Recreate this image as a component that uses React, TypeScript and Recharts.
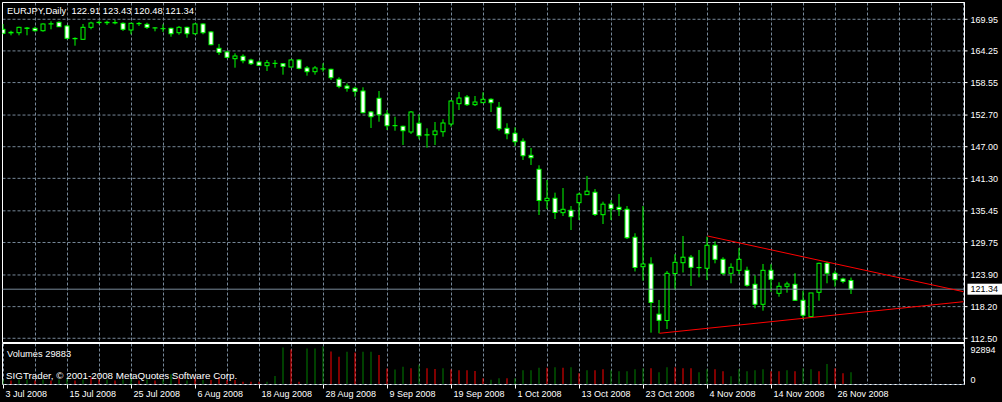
import React from 'react';
import {
  ComposedChart,
  Bar,
  Line,
  XAxis,
  YAxis,
  CartesianGrid,
  ReferenceLine,
  ReferenceArea,
  Cell,
} from 'recharts';

// ---------- data ----------
const symbolName = 'EURJPY,Daily';
const copyrightText = 'SIGTrader, \u00a9 2001-2008 MetaQuotes Software Corp.';

const opens = [
  168.14, 167.5, 167.53, 168.3, 168.32, 167.89, 169.1, 169.4, 168.74, 166.5,
  166.34, 168.5, 169.35, 169.4, 169.3, 169.22, 168.02, 169.2, 169.04, 168.4,
  168.25, 168.32, 167.53, 168.5, 167.35, 169.1, 167.66, 164.72, 164.06, 162.85,
  163.28, 162.62, 162.25, 161.59, 162.0, 161.95, 161.35, 162.62, 161.18, 160.51,
  161.0, 160.94, 159.14, 157.93, 157.52, 157.03, 153.25, 155.72, 152.89, 150.8,
  150.68, 149.65, 151.22, 149.1, 149.16, 149.7, 151.09, 154.75, 155.95, 154.57,
  154.93, 155.54, 154.1, 150.31, 149.42, 147.98, 145.45, 142.93, 137.28, 137.71,
  135.12, 135.55, 136.92, 138.36, 138.79, 134.76, 136.65, 136.09, 135.73, 130.69,
  125.39, 125.88, 116.84, 115.7, 124.17, 126.11, 127.1, 125.25, 125.11, 129.25,
  126.72, 124.2, 124.74, 124.74, 122.22, 118.62, 124.74, 120.6, 121.86, 122.22,
  119.34, 116.39, 120.78, 126.0, 124.2, 123.18, 122.91,
];
const highs = [
  169.1, 167.89, 168.61, 168.56, 168.61, 169.22, 169.58, 169.58, 168.92, 166.7,
  169.1, 169.51, 169.69, 169.69, 169.82, 169.4, 169.33, 169.46, 169.33, 168.5,
  169.04, 168.43, 168.74, 168.61, 169.22, 169.22, 167.84, 165.5, 164.29, 163.82,
  163.64, 162.85, 162.49, 162.62, 162.62, 162.02, 162.74, 162.8, 161.53, 161.53,
  162.02, 161.05, 159.5, 158.42, 157.81, 157.7, 153.43, 157.03, 153.61, 152.4,
  150.78, 153.43, 152.84, 150.31, 151.45, 151.94, 155.41, 156.85, 156.31, 156.13,
  156.8, 155.72, 155.05, 151.22, 150.5, 148.51, 146.77, 143.65, 141.01, 138.72,
  139.56, 136.32, 138.72, 141.73, 139.38, 137.1, 137.4, 138.49, 136.32, 131.41,
  136.32, 127.09, 119.4, 124.62, 127.63, 130.92, 127.5, 128.4, 130.79, 129.97,
  127.09, 126.0, 128.76, 125.39, 123.84, 125.88, 125.83, 122.58, 122.69, 124.2,
  121.07, 120.66, 126.11, 126.29, 124.67, 123.41, 123.43,
];
const lows = [
  167.24, 167.06, 167.06, 167.06, 167.71, 167.71, 168.14, 168.56, 166.34, 165.19,
  166.22, 168.14, 169.04, 168.92, 169.04, 167.84, 167.24, 168.74, 168.2, 167.78,
  167.66, 166.81, 167.17, 166.63, 167.17, 167.24, 165.26, 163.52, 162.92, 161.23,
  162.02, 161.71, 161.59, 160.63, 161.23, 159.97, 161.3, 160.94, 159.79, 159.97,
  160.51, 159.01, 157.52, 156.91, 156.01, 153.02, 150.37, 151.5, 150.01, 149.88,
  147.31, 149.29, 148.34, 146.82, 147.31, 148.8, 150.6, 153.61, 154.33, 154.33,
  154.9, 153.25, 149.88, 148.34, 147.13, 144.61, 143.71, 134.7, 135.78, 133.98,
  134.52, 132.0, 133.8, 138.3, 134.52, 133.08, 133.8, 134.52, 130.38, 124.53,
  122.87, 113.51, 113.4, 114.17, 121.2, 124.35, 121.92, 123.48, 123.0, 126.0,
  123.9, 122.4, 124.03, 121.79, 117.9, 117.47, 120.89, 119.99, 120.71, 119.27,
  115.92, 116.28, 119.27, 122.4, 121.79, 122.4, 120.48,
];
const closes = [
  167.42, 167.6, 168.5, 168.38, 167.89, 169.1, 169.15, 168.61, 166.52, 166.45,
  168.5, 169.28, 169.4, 169.33, 169.36, 168.14, 169.22, 169.15, 168.5, 168.38,
  168.26, 167.35, 168.5, 167.35, 169.1, 167.53, 165.37, 164.0, 163.1, 163.34,
  162.49, 161.95, 161.66, 162.13, 162.02, 161.48, 162.62, 161.12, 160.51, 161.18,
  161.02, 159.43, 157.88, 157.52, 156.98, 153.12, 152.4, 152.76, 150.78, 150.78,
  149.88, 153.25, 148.98, 149.16, 149.83, 151.27, 155.23, 155.77, 154.57, 155.05,
  155.54, 154.93, 150.24, 149.34, 147.9, 145.38, 145.02, 137.31, 137.71, 135.15,
  135.73, 134.4, 138.45, 138.99, 134.79, 136.65, 135.84, 135.69, 130.61, 125.25,
  125.88, 118.95, 115.74, 124.2, 126.18, 127.1, 125.28, 125.21, 129.25, 126.72,
  124.2, 125.28, 126.72, 122.04, 118.62, 124.74, 123.12, 121.86, 122.28, 119.34,
  116.64, 120.66, 126.0, 124.2, 123.05, 122.76, 121.34,
];
const volumes = [
  12450, 9960, 12450, 12450, 9960, 12450, 9960, 12450, 14940, 9960,
  12450, 17430, 12450, 12450, 9960, 12450, 14940, 9960, 12450, 9960,
  12450, 24900, 17430, 9960, 17430, 11200, 11200, 17430, 11200, 11200,
  6700, 6700, 6700, 6700, 20670, 90390, 85410, 6700, 87900, 87900,
  92894, 80430, 67980, 79680, 77940, 79680, 79680, 72210, 39090, 36600,
  43080, 39840, 48060, 39840, 38100, 39840, 36600, 34860, 34860, 33120,
  14940, 11700, 14940, 14940, 14940, 34860, 34860, 40590, 40590, 42330,
  40590, 42330, 27390, 34860, 34860, 37350, 34860, 32370, 32370, 37350,
  39840, 39840, 29880, 42330, 42330, 39840, 39840, 29880, 37350, 37350,
  32370, 19920, 37350, 32370, 34860, 37350, 32370, 32370, 34860, 32370,
  39840, 37350, 32370, 49800, 39840, 27390, 29883,
];
// g = volume drawn green, r = volume drawn red
const volumeColorCodes =
  'grggrgrggrgrrgrggrgrggrgrgrrrrrrrgggrrgggrrgrggrrggrgrrgrrrrrggrggggrgrgrgrrgggggrggrrrggrrgggggrrgrggrgrrg';

const dateLabels = [
  '3 Jul 2008', '15 Jul 2008', '25 Jul 2008', '6 Aug 2008', '18 Aug 2008',
  '28 Aug 2008', '9 Sep 2008', '19 Sep 2008', '1 Oct 2008', '13 Oct 2008',
  '23 Oct 2008', '4 Nov 2008', '14 Nov 2008', '26 Nov 2008',
];
const priceTicks = [169.95, 164.25, 158.55, 152.7, 147.0, 141.3, 135.45, 129.75, 123.9, 118.2, 112.5];
const volumeTicks = [0, 92894];
const upperTrend = [
  { i: 88, v: 130.92 },
  { i: 120, v: 120.89 },
];
const lowerTrend = [
  { i: 82, v: 113.4 },
  { i: 120, v: 119.09 },
];

// ---------- derived ----------
const bars = opens.map((o, i) => ({
  i,
  o,
  h: highs[i],
  l: lows[i],
  c: closes[i],
  range: [lows[i], highs[i]],
  vol: volumes[i],
  vc: volumeColorCodes[i],
}));
const last = bars[bars.length - 1];
const X_DOMAIN: [number, number] = [-0.125, 120.125];
const gridTicks: number[] = [];
for (let k = 0; k <= 120; k += 4) gridTicks.push(k);
const PRICE_DOMAIN: [number, number] = [111.74, 172.97];
const VOL_DOMAIN: [number, number] = [0, 100000];

const FONT = '"Liberation Sans", Arial, sans-serif';
const GRID = '#778899';
const LIME = '#00ff00';
const DASH = '3 2';

const Candle = (props: any) => {
  const { x, y, width, height, payload } = props;
  if (x == null || y == null || !payload) return null;
  const cx = x + width / 2;
  const { o, h, l, c } = payload;
  const span = h - l || 1;
  const yOf = (p: number) => y + ((h - p) / span) * height;
  const top = yOf(Math.max(o, c));
  const bot = yOf(Math.min(o, c));
  const bear = c < o;
  return (
    <g>
      <line x1={cx} x2={cx} y1={y} y2={y + height} stroke={LIME} strokeWidth={1} />
      <rect
        x={cx - 2}
        y={top}
        width={4}
        height={Math.max(bot - top, 0)}
        fill={bear ? '#ffffff' : '#000000'}
        stroke={LIME}
        strokeWidth={1}
      />
    </g>
  );
};

const PriceTick = (props: any) => {
  const { x, y, payload } = props;
  return (
    <text x={x} y={y} dy={3.3} fill="#ffffff" fontSize={9} fontFamily={FONT} textAnchor="start">
      {Number(payload.value).toFixed(2)}
    </text>
  );
};

const VolTick = (props: any) => {
  const { x, y, payload } = props;
  const v = Number(payload.value);
  return (
    <text x={x} y={y} dy={v === 0 ? -2 : 7} fill="#ffffff" fontSize={9} fontFamily={FONT} textAnchor="start">
      {String(v)}
    </text>
  );
};

const DateTick = (props: any) => {
  const { x, y, payload } = props;
  const v = Number(payload.value);
  if (v % 8 !== 0) return null;
  const label = dateLabels[v / 8];
  if (!label) return null;
  return (
    <g>
      <line x1={x} x2={x} y1={y - 6} y2={y - 2} stroke="#ffffff" strokeWidth={1} />
      <text x={x + 2} y={y} dy={6.5} fill="#ffffff" fontSize={9} fontFamily={FONT} textAnchor="start">
        {label}
      </text>
    </g>
  );
};

const CurrentPriceLabel = (props: any) => {
  const vb = props.viewBox || {};
  const rx = (vb.x || 0) + (vb.width || 0) + 3;
  const ry = (vb.y || 0) - 5.5;
  return (
    <g>
      <rect x={rx} y={ry} width={35} height={11} fill="#ffffff" />
      <text x={rx + 3} y={ry + 8.8} fill="#000000" fontSize={9} fontFamily={FONT}>
        {last.c.toFixed(2)}
      </text>
    </g>
  );
};

export default function App() {
  const title = `${symbolName}  ${last.o.toFixed(2)} ${last.h.toFixed(2)} ${last.l.toFixed(2)} ${last.c.toFixed(2)}`;
  return (
    <div
      style={{
        position: 'absolute',
        left: 0,
        top: 0,
        width: 1002,
        height: 402,
        background: '#000000',
        overflow: 'hidden',
      }}
    >
      <div style={{ position: 'absolute', left: 0, top: 0 }}>
        <ComposedChart width={1002} height={344} data={bars} margin={{ top: 2.5, right: 0, bottom: 1.5, left: 2.5 }}>
          <CartesianGrid stroke={GRID} strokeDasharray={DASH} fill="none" />
          <XAxis
            type="number"
            dataKey="i"
            domain={X_DOMAIN}
            allowDataOverflow
            ticks={gridTicks}
            hide
          />
          <YAxis
            type="number"
            orientation="right"
            width={37.5}
            domain={PRICE_DOMAIN}
            allowDataOverflow
            ticks={priceTicks}
            interval={0}
            tick={<PriceTick />}
            tickSize={3}
            tickMargin={3}
            tickLine={{ stroke: '#ffffff' }}
            axisLine={{ stroke: '#ffffff' }}
          />
          <ReferenceArea
            x1={X_DOMAIN[0]}
            x2={X_DOMAIN[1]}
            y1={PRICE_DOMAIN[0]}
            y2={PRICE_DOMAIN[1]}
            fill="none"
            stroke="#ffffff"
            strokeWidth={1}
            ifOverflow="visible"
          />
          <ReferenceLine y={last.c} stroke={GRID} strokeWidth={1} label={<CurrentPriceLabel />} />
          <Bar dataKey="range" barSize={5} shape={<Candle />} isAnimationActive={false} />
          <Line
            data={upperTrend}
            dataKey="v"
            type="linear"
            stroke="#ff0000"
            strokeWidth={1}
            dot={false}
            activeDot={false}
            isAnimationActive={false}
          />
          <Line
            data={lowerTrend}
            dataKey="v"
            type="linear"
            stroke="#ff0000"
            strokeWidth={1}
            dot={false}
            activeDot={false}
            isAnimationActive={false}
          />
        </ComposedChart>
      </div>
      <div style={{ position: 'absolute', left: 0, top: 343 }}>
        <ComposedChart width={1002} height={59} data={bars} margin={{ top: 0.5, right: 0, bottom: 0, left: 2.5 }}>
          <CartesianGrid stroke={GRID} strokeDasharray={DASH} horizontal={false} fill="none" />
          <XAxis
            type="number"
            dataKey="i"
            domain={X_DOMAIN}
            allowDataOverflow
            ticks={gridTicks}
            interval={0}
            height={17.5}
            tickSize={4}
            tickMargin={2}
            tickLine={false}
            axisLine={false}
            tick={<DateTick />}
          />
          <YAxis
            type="number"
            orientation="right"
            width={37.5}
            domain={VOL_DOMAIN}
            allowDataOverflow
            ticks={volumeTicks}
            interval={0}
            tick={<VolTick />}
            tickLine={false}
            tickSize={3}
            tickMargin={3}
            axisLine={{ stroke: '#ffffff' }}
          />
          <ReferenceArea
            x1={X_DOMAIN[0]}
            x2={X_DOMAIN[1]}
            y1={VOL_DOMAIN[0]}
            y2={VOL_DOMAIN[1]}
            fill="none"
            stroke="#ffffff"
            strokeWidth={1}
            ifOverflow="visible"
          />
          <ReferenceLine y={0} stroke={GRID} strokeDasharray={DASH} />
          <Bar dataKey="vol" barSize={1} isAnimationActive={false}>
            {bars.map((b) => (
              <Cell key={b.i} fill={b.vc === 'g' ? '#008000' : '#ff0000'} />
            ))}
          </Bar>
        </ComposedChart>
      </div>
      <svg
        width={1002}
        height={402}
        style={{ position: 'absolute', left: 0, top: 0, pointerEvents: 'none' }}
      >
        <text
          x={7}
          y={14}
          fill="#ffffff"
          fontSize={9.4}
          fontFamily={FONT}
          xmlSpace="preserve"
          style={{ whiteSpace: 'pre' }}
        >
          {title}
        </text>
        <text x={7} y={356.7} fill="#ffffff" fontSize={9.3} fontFamily={FONT}>
          {`Volumes ${last.vol}`}
        </text>
        <text x={6} y={379.4} fill="#ffffff" fontSize={9.8} fontFamily={FONT}>
          {copyrightText}
        </text>
      </svg>
    </div>
  );
}
